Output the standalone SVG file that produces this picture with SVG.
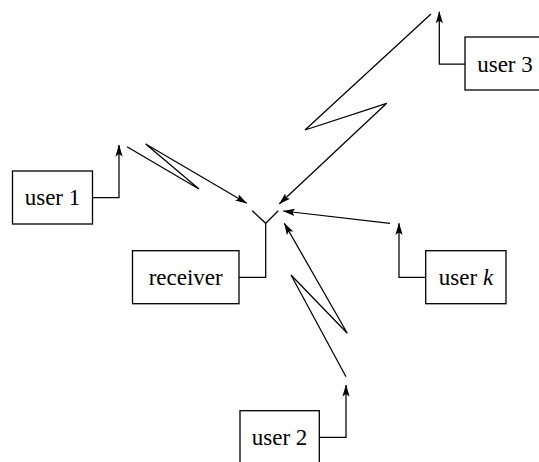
<svg xmlns="http://www.w3.org/2000/svg" width="539" height="462" viewBox="0 0 539 462">
<style>
.box{fill:#fff;stroke:#000;stroke-width:1.3}
.ln{fill:none;stroke:#000;stroke-width:1.25}
.arr{marker-end:url(#ah)}
.lbl{font-family:'Liberation Serif','Times New Roman',serif;font-size:23px;fill:#000;text-anchor:middle}
</style>
<defs>
<marker id="ah" markerUnits="userSpaceOnUse" viewBox="0 0 12 8" markerWidth="12" markerHeight="8" refX="11.5" refY="4" orient="auto">
<path d="M0,0.4 L12,4 L0,7.6 L2.4,4 z" fill="#000"/>
</marker>
</defs>
<rect width="539" height="462" fill="#fff"/>
<g id="connectors">
<path class="ln arr" d="M92.5,197.5 H119 V145"/>
<path class="ln arr" d="M127,146.7 L199,189 L145.7,144 L246.7,203.3"/>
<path class="ln arr" d="M465,64 H439.3 V11.7"/>
<path class="ln arr" d="M431,14 L305,130 L386.7,103.3 L279.3,204"/>
<path class="ln arr" d="M425.7,277.3 H399 V223.3"/>
<path class="ln arr" d="M390,223.3 L283.3,211"/>
<path class="ln arr" d="M319.3,437.3 H346 V385"/>
<path class="ln arr" d="M346,376.7 L291,275 L347.3,333.3 L284.3,223.3"/>
<path class="ln" d="M239,277.3 H265.7 V223.3"/>
</g>
<g id="antenna">
<path class="ln" d="M252.3,210.7 L265.7,223.3 L278.3,210.7"/>
</g>
<g id="user1">
<rect class="box" x="12.5" y="171" width="80" height="53"/>
<text class="lbl" x="52.5" y="205">user 1</text>
</g>
<g id="user3">
<rect class="box" x="465" y="37" width="80" height="53"/>
<text class="lbl" x="505" y="71.7">user 3</text>
</g>
<g id="receiver">
<rect class="box" x="132.5" y="250.7" width="106.5" height="53"/>
<text class="lbl" x="185.7" y="285">receiver</text>
</g>
<g id="userk">
<rect class="box" x="425.7" y="250.7" width="80.3" height="53"/>
<text class="lbl" x="466" y="285">user <tspan font-style="italic">k</tspan></text>
</g>
<g id="user2">
<rect class="box" x="240" y="410.7" width="79.3" height="53"/>
<text class="lbl" x="279.6" y="445">user 2</text>
</g>
</svg>
